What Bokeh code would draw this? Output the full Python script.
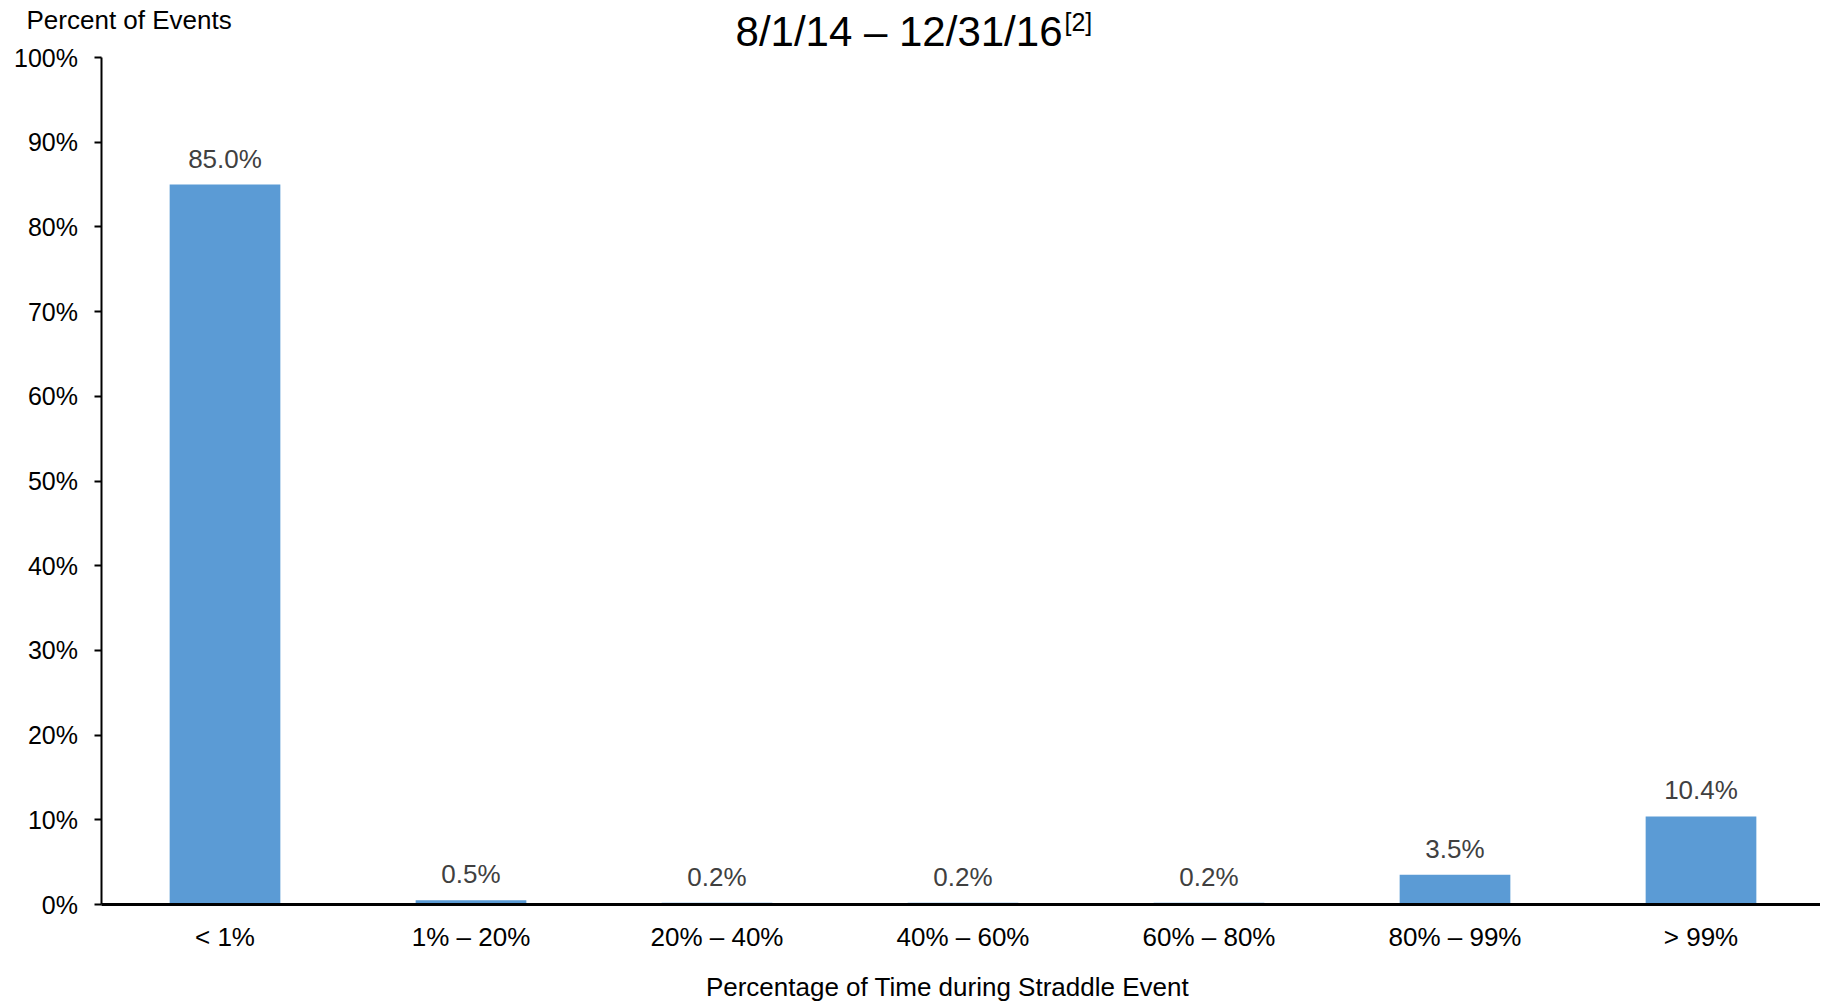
from bokeh.plotting import figure
from bokeh.models import ColumnDataSource, Range1d, FixedTicker, PrintfTickFormatter, Label
from bokeh.core.properties import value
from bokeh.embed import file_html
from bokeh.resources import INLINE

categories = ["< 1%", "1% – 20%", "20% – 40%", "40% – 60%", "60% – 80%", "80% – 99%", "> 99%"]
percent_of_events = [85.0, 0.5, 0.2, 0.2, 0.2, 3.5, 10.4]
y_ticks = [0, 10, 20, 30, 40, 50, 60, 70, 80, 90, 100]
title_text = "8/1/14 – 12/31/16"
title_sup = "[2]"
y_title = "Percent of Events"
x_title = "Percentage of Time during Straddle Event"

FONT = "Liberation Sans"
BAR = "#5B9BD5"
W, H = 1820, 1004

xpos = list(range(len(categories)))
src = ColumnDataSource(dict(
    x=xpos,
    val=percent_of_events,
    lab=[f"{v:.1f}%" for v in percent_of_events],
))

# the frame covers the whole canvas, so that texts outside the axes are not clipped
p = figure(x_range=Range1d(-0.9126, -0.9126 + W / 246.0),
           y_range=Range1d(-(H - 904) / 8.47, 100 + 57 / 8.47),
           width=W, height=H, output_backend="svg", toolbar_location=None,
           min_border_left=0, min_border_right=0, min_border_top=0, min_border_bottom=0)
p.outline_line_color = None
p.xgrid.visible = False
p.ygrid.visible = False

p.vbar(x="x", top="val", width=0.45, source=src, fill_color=BAR, line_color=None)
p.text(x="x", y="val", text="lab", source=src, text_align="center", text_baseline="bottom",
       y_offset=-11, text_font=value(FONT), text_font_size="26px", text_color="#404040")

# y axis
ya = p.yaxis[0]
ya.fixed_location = -0.5
ya.bounds = (0, 100)
ya.ticker = FixedTicker(ticks=y_ticks)
ya.formatter = PrintfTickFormatter(format="%d%%")
ya.axis_line_color = "black"
ya.axis_line_width = 2
ya.major_tick_line_color = "black"
ya.major_tick_line_width = 2
ya.major_tick_out = 7
ya.major_tick_in = 0
ya.minor_tick_line_color = None
ya.major_label_text_font = FONT
ya.major_label_text_font_size = "25px"
ya.major_label_text_color = "black"
ya.major_label_standoff = 17

# x axis
xa = p.xaxis[0]
xa.fixed_location = 0
xa.bounds = (-0.5, 6.6)
xa.ticker = FixedTicker(ticks=xpos)
xa.major_label_overrides = {i: c for i, c in zip(xpos, categories)}
xa.axis_line_color = "black"
xa.axis_line_width = 3
xa.major_tick_line_color = None
xa.minor_tick_line_color = None
xa.major_label_text_font = FONT
xa.major_label_text_font_size = "26px"
xa.major_label_text_color = "black"
xa.major_label_standoff = 11

# texts (screen units, from the canvas bottom-left)
p.add_layout(Label(x=26, y=H - 19, x_units="screen", y_units="screen", text=y_title,
                   text_font=FONT, text_font_size="26px", text_color="black",
                   text_align="left", text_baseline="middle"))
p.add_layout(Label(x=1062, y=H - 31, x_units="screen", y_units="screen", text=title_text,
                   text_font=FONT, text_font_size="42px", text_color="black",
                   text_align="right", text_baseline="alphabetic"))
p.add_layout(Label(x=1064, y=H - 21, x_units="screen", y_units="screen", text=title_sup,
                   text_font=FONT, text_font_size="25px", text_color="black",
                   text_align="left", text_baseline="alphabetic"))
p.add_layout(Label(x=947, y=H - 986, x_units="screen", y_units="screen", text=x_title,
                   text_font=FONT, text_font_size="26px", text_color="black",
                   text_align="center", text_baseline="middle"))

open("out.html", "w").write(file_html(p, INLINE))
